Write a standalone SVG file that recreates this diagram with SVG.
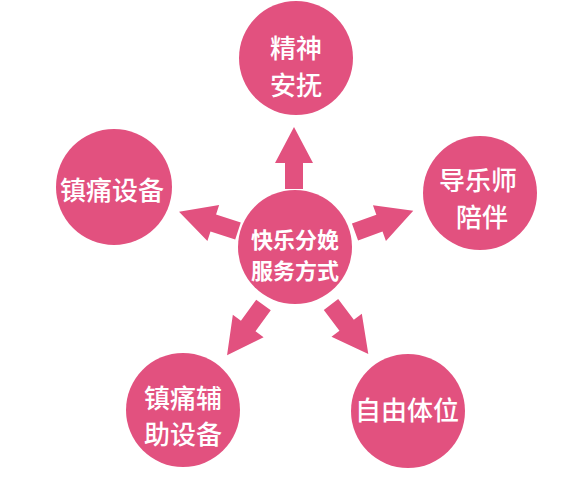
<svg xmlns="http://www.w3.org/2000/svg" xmlns:xlink="http://www.w3.org/1999/xlink" width="565" height="493" viewBox="0 0 565 493">
<style>
.c{fill:#E2517F;}
.t{fill:#ffffff;font-family:"Noto Sans CJK SC","Noto Sans",sans-serif;font-size:26px;font-weight:500;text-anchor:middle;dominant-baseline:central;}
.tc{font-size:22px;font-weight:700;}
.a{fill:#E2517F;}
</style>
<defs>
<path id="arr" d="M0,-9 H26 V-19 L62,0 L26,19 V9 H0 Z"/>
</defs>
<rect width="565" height="493" fill="#ffffff"/>
<g id="connectors" class="a">
<use xlink:href="#arr" transform="translate(294,189) rotate(-90)"/>
<use xlink:href="#arr" transform="translate(355,232) rotate(-20)"/>
<use xlink:href="#arr" transform="translate(238,231) rotate(198)"/>
<use xlink:href="#arr" transform="translate(263.5,305) rotate(126)"/>
<use xlink:href="#arr" transform="translate(331,304.5) rotate(53)"/>
</g>
<g id="center">
<circle class="c" cx="295" cy="247" r="57"/>
<text class="t tc" x="295" y="238">快乐分娩</text>
<text class="t tc" x="295" y="269">服务方式</text>
</g>
<g id="top">
<circle class="c" cx="296" cy="58" r="57"/>
<text class="t" x="296" y="46">精神</text>
<text class="t" x="296" y="83">安抚</text>
</g>
<g id="right">
<circle class="c" cx="480" cy="193" r="57"/>
<text class="t" x="478" y="178">导乐师</text>
<text class="t" x="482" y="215">陪伴</text>
</g>
<g id="left">
<circle class="c" cx="114" cy="187" r="58"/>
<text class="t" x="112" y="188">镇痛设备</text>
</g>
<g id="bottom-left">
<circle class="c" cx="183" cy="410" r="57"/>
<text class="t" x="183" y="396">镇痛辅</text>
<text class="t" x="183" y="432">助设备</text>
</g>
<g id="bottom-right">
<circle class="c" cx="408" cy="411" r="57"/>
<text class="t" x="407" y="408">自由体位</text>
</g>
</svg>
